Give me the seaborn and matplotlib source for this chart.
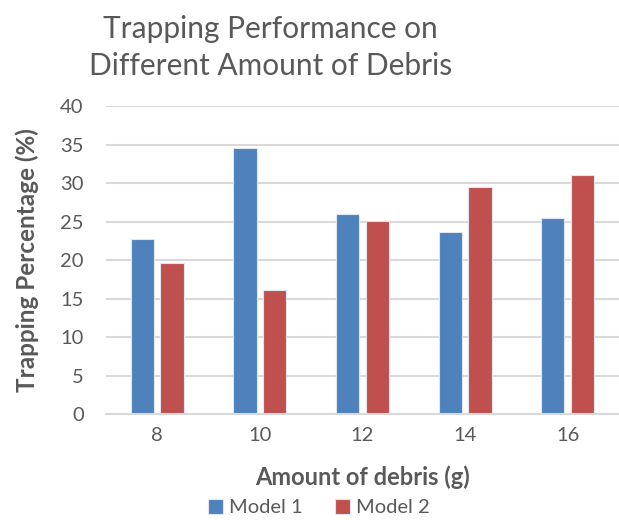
import matplotlib
matplotlib.use("Agg")
import matplotlib.pyplot as plt
import seaborn as sns
import pandas as pd

# data
debris = ["8", "10", "12", "14", "16"]
model1 = [22.7, 34.6, 26.0, 23.7, 25.5]
model2 = [19.6, 16.1, 25.1, 29.5, 31.0]

df = pd.DataFrame({
    "debris": debris * 2,
    "value": model1 + model2,
    "model": ["Model 1"] * len(debris) + ["Model 2"] * len(debris),
})

sns.set_theme(style="white")
plt.rcParams["font.family"] = ["Lato", "DejaVu Sans"]
grey = "#595959"

fig = plt.figure(figsize=(6.19, 5.2), dpi=100)
ax = fig.add_axes([0.171, 0.203, 0.829, 0.593])

sns.barplot(data=df, x="debris", y="value", hue="model", order=debris,
            palette=["#4F81BD", "#C0504D"], saturation=1, width=0.58, gap=0.22,
            edgecolor="#dfe6f0", linewidth=0.8, ax=ax, legend=True)

ax.set_ylim(0, 40)
ax.set_yticks(range(0, 41, 5))
ax.yaxis.grid(True, color="#d9d9d9", linewidth=1.5)
ax.set_axisbelow(True)
for s in ["top", "right", "left"]:
    ax.spines[s].set_visible(False)
ax.spines["bottom"].set_color("#d9d9d9")
ax.spines["bottom"].set_linewidth(1.5)
ax.tick_params(axis="both", colors=grey, labelsize=14.5, length=0)
ax.tick_params(axis="y", pad=16)
ax.tick_params(axis="x", pad=9)

ax.set_xlabel("Amount of debris (g)", fontsize=17, fontweight="bold", color=grey)
ax.xaxis.set_label_coords(0.5, -0.165)
ax.set_ylabel("Trapping Percentage (%)", fontsize=17.5, fontweight="bold", color=grey)
ax.yaxis.set_label_coords(-0.13, 0.5)

fig.text(0.437, 0.972, "Trapping Performance on\nDifferent Amount of Debris",
         ha="center", va="top", fontsize=21.5, color=grey, linespacing=1.4)

handles, labels = ax.get_legend_handles_labels()
ax.get_legend().remove()
fig.legend(handles, labels, loc="lower center", bbox_to_anchor=(0.515, -0.028),
           ncol=2, frameon=False, fontsize=14.5, labelcolor=grey,
           handlelength=0.75, handleheight=0.75, handletextpad=0.3, columnspacing=1.6)

fig.savefig("out.png", dpi=100)
